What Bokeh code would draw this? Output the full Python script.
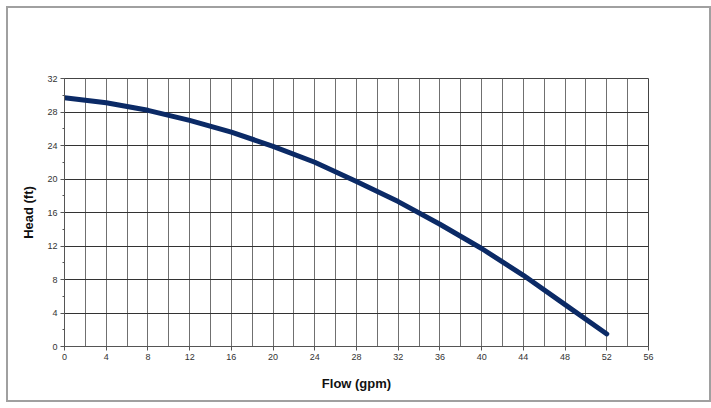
from bokeh.plotting import figure
from bokeh.models import SingleIntervalTicker, Range1d
from bokeh.embed import file_html
from bokeh.resources import INLINE

# Data
flow = [0, 4, 8, 12, 16, 20, 24, 28, 32, 36, 40, 44, 48, 52]
head = [29.7, 29.1, 28.2, 27.0, 25.6, 23.9, 22.0, 19.7, 17.3, 14.6, 11.7, 8.5, 5.0, 1.5]

x_label = "Flow (gpm)"
y_label = "Head (ft)"

p = figure(width=697, height=402, output_backend="svg", toolbar_location=None,
           x_range=Range1d(0, 56), y_range=Range1d(0, 32),
           min_border_left=56, min_border_right=61, min_border_top=70, min_border_bottom=54)
p.frame_width = 584
p.frame_height = 268
p.styles = {"border": "2px solid #a0a0a0", "box-sizing": "border-box",
            "margin-left": "6px", "margin-top": "6px"}
p.background_fill_color = "white"
p.border_fill_color = "white"
p.outline_line_color = "#444444"
p.outline_line_width = 1

tick_font = "'Liberation Sans Narrow', 'Liberation Sans', Arial, sans-serif"

p.xaxis.ticker = SingleIntervalTicker(interval=4, num_minor_ticks=2)
p.yaxis.ticker = SingleIntervalTicker(interval=4, num_minor_ticks=2)
for ax in (p.xaxis[0], p.yaxis[0]):
    ax.major_label_text_font = tick_font
    ax.major_label_text_font_size = "9px"
    ax.major_label_text_color = "#333333"
    ax.axis_line_color = "#555555"
    ax.major_tick_line_color = "#555555"
    ax.minor_tick_line_color = "#555555"
    ax.major_tick_in = 0
    ax.minor_tick_in = 0
    ax.axis_label_text_font = "Liberation Sans"
    ax.axis_label_text_font_style = "bold"
    ax.axis_label_text_font_size = "13px"
    ax.axis_label_text_color = "#111111"

p.xaxis.axis_label = x_label
p.yaxis.axis_label = y_label
p.xaxis.major_tick_out = 4
p.xaxis.minor_tick_out = 0
p.yaxis.major_tick_out = 4
p.yaxis.minor_tick_out = 2
p.xaxis.major_label_standoff = 3
p.yaxis.major_label_standoff = 3
p.xaxis.axis_label_standoff = 13
p.yaxis.axis_label_standoff = 8

p.xgrid.ticker = SingleIntervalTicker(interval=2)
p.xgrid.grid_line_color = "#707070"
p.xgrid.grid_line_width = 1
p.ygrid.ticker = SingleIntervalTicker(interval=4)
p.ygrid.grid_line_color = "#333333"
p.ygrid.grid_line_width = 1

p.line(flow, head, line_color="#0b2a66", line_width=5, line_cap="round", line_join="round")

open("out.html", "w").write(file_html(p, INLINE))
